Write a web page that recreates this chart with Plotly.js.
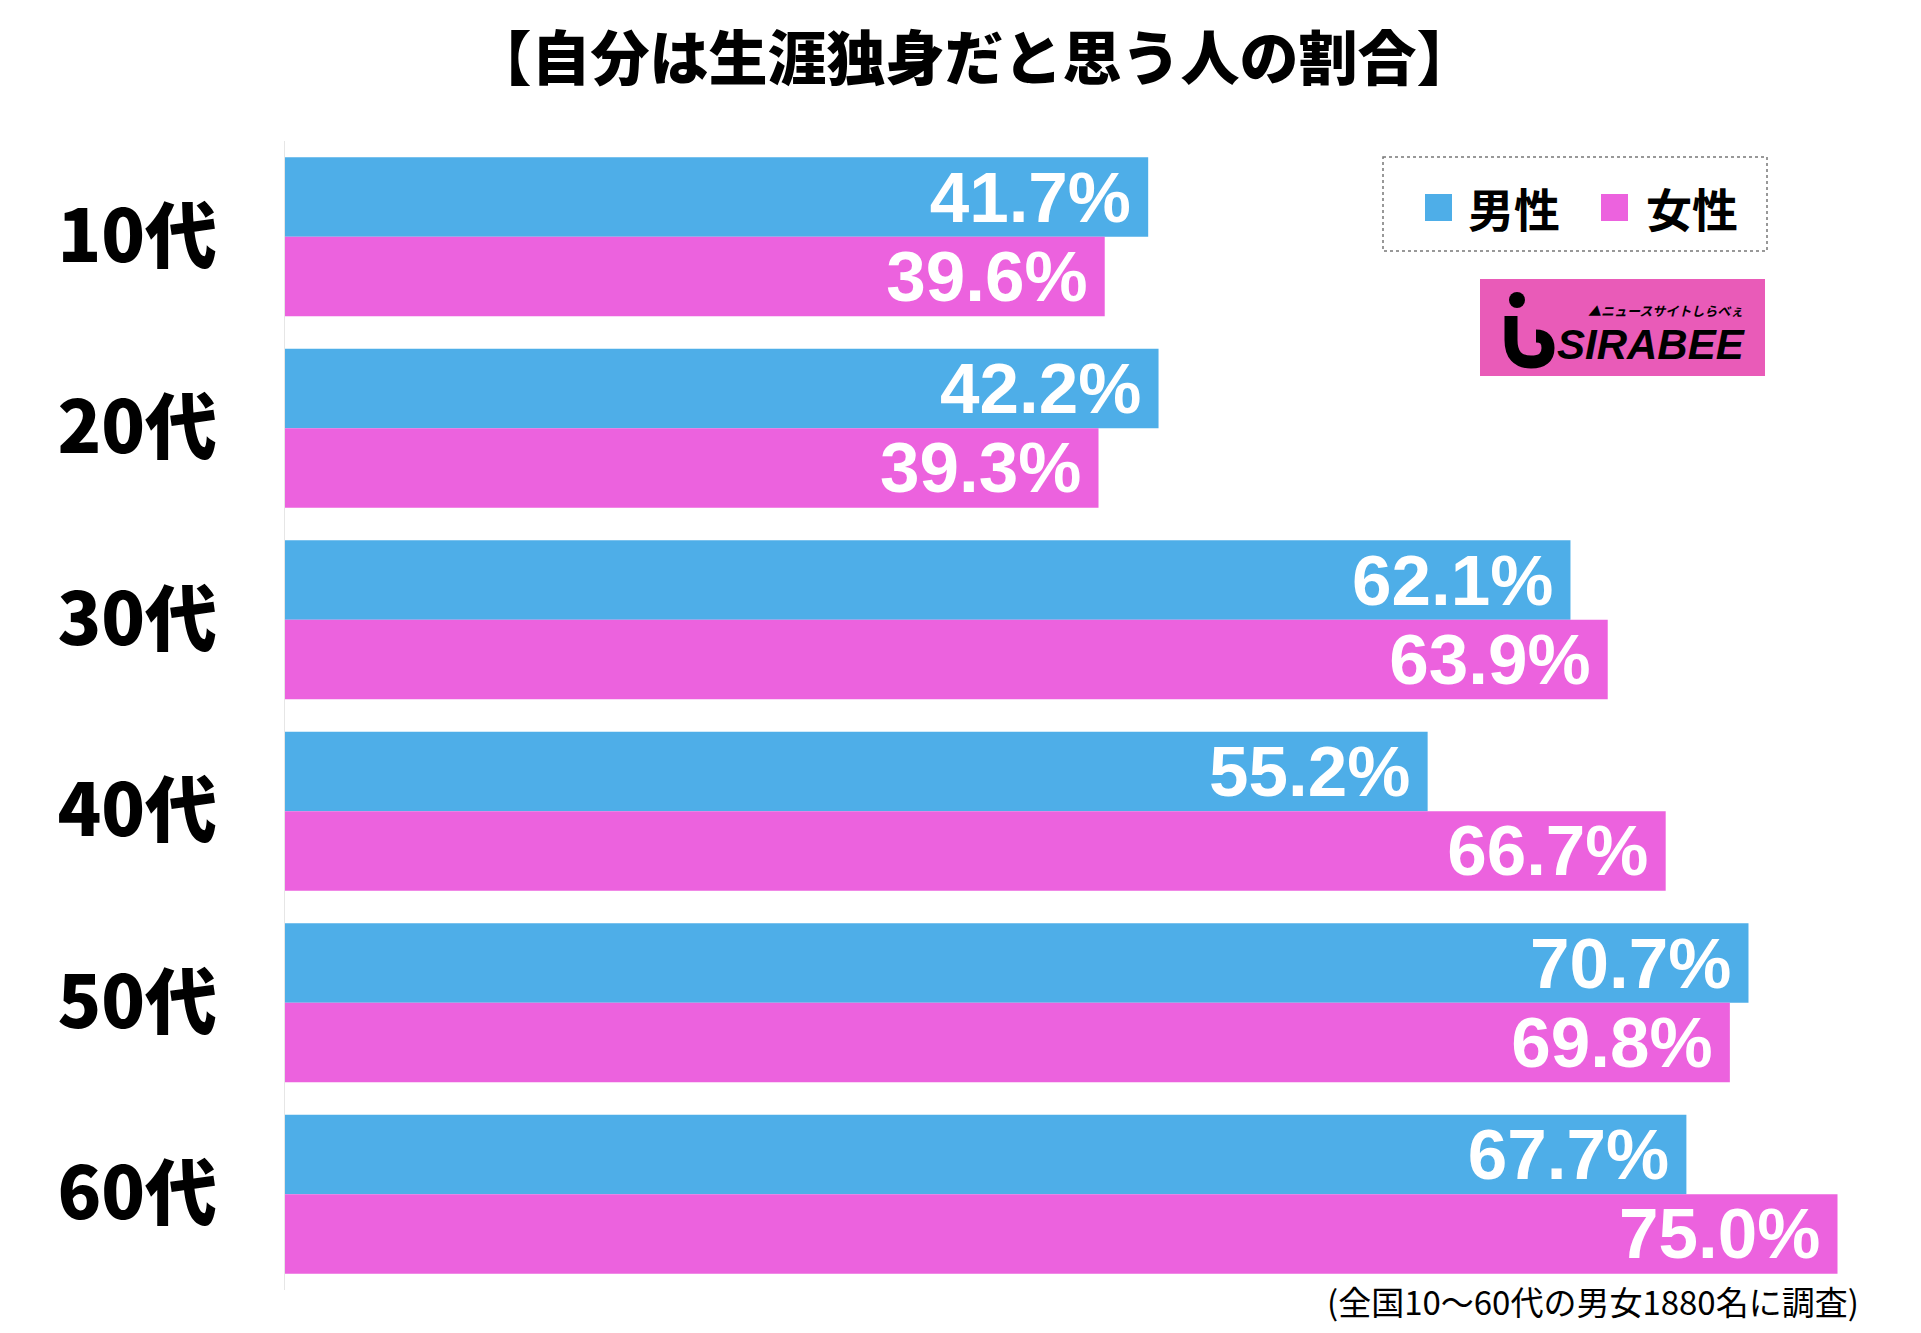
<!DOCTYPE html>
<html><head><meta charset="utf-8">
<script src="https://cdn.plot.ly/plotly-3.0.1.min.js"></script>
<style>html,body{margin:0;padding:0;background:#fff}#chart{width:1921px;height:1333px}</style>
</head><body><div id="chart"></div>
<script>
const categories = ['10代','20代','30代','40代','50代','60代'];
const maleValues = [41.7, 42.2, 62.1, 55.2, 70.7, 67.7];
const femaleValues = [39.6, 39.3, 63.9, 66.7, 69.8, 75.0];
const seriesNames = ['男性','女性'];
const titleText = '【自分は生涯独身だと思う人の割合】';
const noteText = '(全国10〜60代の男女1880名に調査)';

const W = 1921, H = 1333;
const M = {l: 285, r: 31, t: 141, b: 43};
const PW = W - M.l - M.r, PH = H - M.t - M.b;
const px = x => (x - M.l) / PW;
const py = y => (H - M.b - y) / PH;

const blue = '#4eaee8', pink = '#ec62de';
const valFont = {family: 'Liberation Sans, Arial, sans-serif', size: 71, color: '#fff', weight: 'bold'};

function barTrace(name, vals, color) {
  return {
    type: 'bar', orientation: 'h', name: name,
    x: vals, y: categories,
    marker: {color: color, line: {width: 0}},
    texttemplate: '%{x:.1f}%\u2009',
    textposition: 'inside', insidetextanchor: 'end',
    constraintext: 'none', cliponaxis: false,
    insidetextfont: valFont, hoverinfo: 'none'
  };
}

const data = [barTrace(seriesNames[0], maleValues, blue), barTrace(seriesNames[1], femaleValues, pink)];

const jp = '"Noto Sans CJK JP", "Noto Sans", sans-serif';

const layout = {
  width: W, height: H,
  margin: M,
  paper_bgcolor: '#fff', plot_bgcolor: '#fff',
  barmode: 'group', bargap: 0.17, bargroupgap: 0,
  showlegend: false,
  title: {text: titleText, x: 974 / W, xref: 'container', xanchor: 'center',
          y: 1 - 59 / H, yref: 'container', yanchor: 'middle',
          font: {family: jp, size: 59, color: '#000', weight: 900}},
  xaxis: {range: [0, PW / 20.7], showgrid: false, zeroline: false, showticklabels: false,
          showline: false, fixedrange: true},
  yaxis: {autorange: 'reversed', showgrid: false, zeroline: false, showline: true,
          linecolor: '#e6e6e6', linewidth: 1.5, ticks: '', ticklabelstandoff: 52,
          tickfont: {family: jp, size: 72, color: '#000', weight: 900}},
  shapes: [
    // legend box
    {type: 'rect', xref: 'paper', yref: 'paper', x0: px(1383), x1: px(1767), y0: py(157), y1: py(251),
     line: {color: '#777', width: 1.5, dash: 'dot'}, fillcolor: 'rgba(255,255,255,0)'},
    {type: 'rect', xref: 'paper', yref: 'paper', x0: px(1425), x1: px(1452), y0: py(194), y1: py(221),
     line: {width: 0}, fillcolor: blue},
    {type: 'rect', xref: 'paper', yref: 'paper', x0: px(1601), x1: px(1628), y0: py(194), y1: py(221),
     line: {width: 0}, fillcolor: pink},
    // logo
    {type: 'rect', xref: 'paper', yref: 'paper', x0: px(1480), x1: px(1765), y0: py(279), y1: py(376),
     line: {width: 0}, fillcolor: '#e95bb8'},
    {type: 'circle', xref: 'paper', yref: 'paper', x0: px(1509), x1: px(1525), y0: py(292), y1: py(308),
     line: {width: 0}, fillcolor: '#000'},
    {type: 'path', xref: 'paper', yref: 'paper',
     path: 'M ' + px(1511) + ' ' + py(316) + ' L ' + px(1511) + ' ' + py(340) +
           ' Q ' + px(1511) + ' ' + py(362) + ' ' + px(1531) + ' ' + py(362) +
           ' Q ' + px(1548) + ' ' + py(362) + ' ' + px(1548) + ' ' + py(348) +
           ' Q ' + px(1548) + ' ' + py(336) + ' ' + px(1536) + ' ' + py(336),
     line: {color: '#000', width: 13}}
  ],
  annotations: [
    {text: seriesNames[0], xref: 'paper', yref: 'paper', x: px(1466), y: py(207), xanchor: 'left', yanchor: 'middle',
     showarrow: false, font: {family: jp, size: 46, color: '#000', weight: 'bold'}},
    {text: seriesNames[1], xref: 'paper', yref: 'paper', x: px(1644), y: py(207), xanchor: 'left', yanchor: 'middle',
     showarrow: false, font: {family: jp, size: 46, color: '#000', weight: 'bold'}},
    {text: '<b><i>SIRABEE</i></b>', xref: 'paper', yref: 'paper', x: px(1555), y: py(344), xanchor: 'left', yanchor: 'middle',
     showarrow: false, font: {family: '"Liberation Sans", sans-serif', size: 42, color: '#000'}},
    {text: '<b><i>▲ニュースサイトしらべぇ</i></b>', xref: 'paper', yref: 'paper', x: px(1745), y: py(310), xanchor: 'right', yanchor: 'middle',
     showarrow: false, font: {family: jp, size: 13, color: '#000'}},
    {text: noteText, xref: 'paper', yref: 'paper', x: px(1861), y: py(1301), xanchor: 'right', yanchor: 'middle',
     showarrow: false, font: {family: jp, size: 33, color: '#000'}}
  ]
};

Plotly.newPlot('chart', data, layout, {staticPlot: true, displayModeBar: false});
</script></body></html>
